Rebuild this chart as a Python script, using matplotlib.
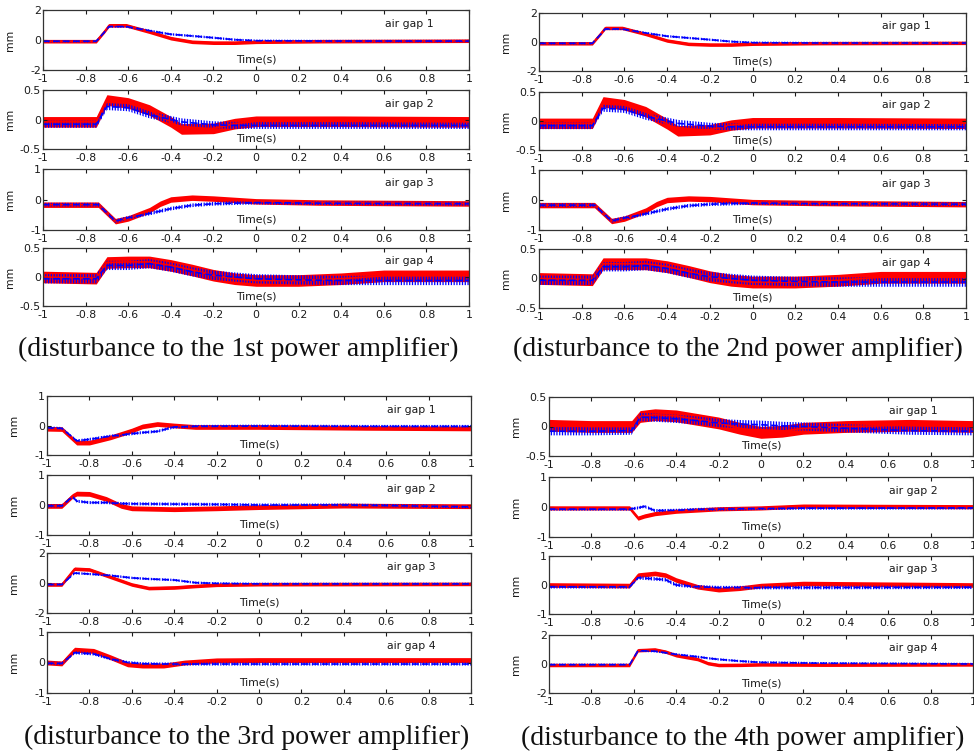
import numpy as np
import matplotlib
matplotlib.use("Agg")
import matplotlib.pyplot as plt

plt.rcParams["hatch.linewidth"] = 0.9

# ---- data (time in s, air gap in mm) ----
xticks = [-1, -0.8, -0.6, -0.4, -0.2, 0, 0.2, 0.4, 0.6, 0.8, 1]
xtick_labels = ["-1", "-0.8", "-0.6", "-0.4", "-0.2", "0", "0.2", "0.4", "0.6", "0.8", "1"]
gap_names = ["air gap 1", "air gap 2", "air gap 3", "air gap 4"]
captions = ["(disturbance to the 1st power amplifier)",
            "(disturbance to the 2nd power amplifier)",
            "(disturbance to the 3rd power amplifier)",
            "(disturbance to the 4th power amplifier)"]

# y limits (+/-) for each air gap panel
ylim_pa1 = [2, 0.5, 1, 0.5]
ylim_pa2 = [2, 0.5, 1, 0.5]
ylim_pa3 = [1, 1, 2, 1]
ylim_pa4 = [0.5, 1, 1, 2]

# half width of the noise band (red, blue)
red_noise_pa1 = [0.12, 0.09, 0.09, 0.1]
blue_noise_pa1 = [0.08, 0.06, 0.06, 0.08]
red_noise_pa2 = [0.12, 0.09, 0.09, 0.1]
blue_noise_pa2 = [0.08, 0.06, 0.06, 0.08]
red_noise_pa3 = [0.08, 0.08, 0.12, 0.08]
blue_noise_pa3 = [0.05, 0.05, 0.08, 0.05]
red_noise_pa4 = [0.1, 0.07, 0.08, 0.12]
blue_noise_pa4 = [0.07, 0.05, 0.06, 0.08]

# 1st power amplifier
t11 = [-1, -0.75, -0.71, -0.69, -0.61, -0.5, -0.4, -0.3, -0.2, -0.1, 0, 0.3, 1]
red11 = [-0.08, -0.08, 0.6, 0.98, 0.98, 0.55, 0.12, -0.12, -0.18, -0.18, -0.12, -0.08, -0.05]
blue11 = [-0.08, -0.08, 0.55, 0.9, 0.9, 0.62, 0.38, 0.27, 0.15, 0.02, -0.05, -0.07, -0.07]
t12 = [-1, -0.75, -0.7, -0.6, -0.5, -0.4, -0.35, -0.2, -0.1, 0, 0.4, 1]
red12 = [-0.04, -0.04, 0.33, 0.28, 0.16, -0.04, -0.16, -0.15, -0.07, -0.03, -0.03, -0.04]
blue12 = [-0.08, -0.08, 0.22, 0.2, 0.08, 0.0, -0.04, -0.09, -0.1, -0.1, -0.1, -0.1]
t13 = [-1, -0.74, -0.66, -0.6, -0.5, -0.45, -0.4, -0.3, -0.2, 0, 0.3, 1]
red13 = [-0.17, -0.17, -0.71, -0.62, -0.35, -0.14, 0.0, 0.06, 0.03, -0.06, -0.1, -0.13]
blue13 = [-0.17, -0.17, -0.71, -0.6, -0.46, -0.38, -0.3, -0.19, -0.14, -0.1, -0.12, -0.14]
t14 = [-1, -0.75, -0.7, -0.6, -0.5, -0.4, -0.3, -0.2, -0.1, 0, 0.2, 0.4, 0.6, 1]
red14 = [0.0, -0.02, 0.25, 0.26, 0.26, 0.2, 0.12, 0.03, -0.03, -0.06, -0.06, -0.03, 0.02, 0.02]
blue14 = [-0.03, -0.03, 0.2, 0.2, 0.23, 0.17, 0.09, 0.03, 0.0, -0.03, -0.05, -0.06, -0.06, -0.06]

# 2nd power amplifier
t21 = [-1, -0.75, -0.71, -0.69, -0.61, -0.5, -0.4, -0.3, -0.2, -0.1, 0, 0.3, 1]
red21 = [-0.09, -0.09, 0.6, 0.97, 0.97, 0.55, 0.1, -0.13, -0.18, -0.18, -0.12, -0.08, -0.06]
blue21 = [-0.09, -0.09, 0.55, 0.9, 0.9, 0.62, 0.4, 0.28, 0.16, 0.03, -0.05, -0.07, -0.07]
t22 = [-1, -0.75, -0.7, -0.6, -0.5, -0.4, -0.35, -0.2, -0.1, 0, 0.4, 1]
red22 = [-0.04, -0.04, 0.33, 0.28, 0.16, -0.05, -0.17, -0.15, -0.07, -0.03, -0.03, -0.04]
blue22 = [-0.08, -0.08, 0.22, 0.2, 0.08, 0.0, -0.04, -0.09, -0.1, -0.1, -0.1, -0.1]
t23 = [-1, -0.74, -0.66, -0.6, -0.5, -0.45, -0.4, -0.3, -0.2, 0, 0.3, 1]
red23 = [-0.17, -0.17, -0.7, -0.62, -0.35, -0.14, 0.0, 0.05, 0.03, -0.07, -0.1, -0.14]
blue23 = [-0.17, -0.17, -0.7, -0.6, -0.46, -0.38, -0.3, -0.19, -0.14, -0.1, -0.12, -0.14]
t24 = [-1, -0.75, -0.7, -0.6, -0.5, -0.4, -0.3, -0.2, -0.1, 0, 0.2, 0.4, 0.6, 1]
red24 = [0.0, -0.02, 0.25, 0.25, 0.25, 0.2, 0.12, 0.03, -0.03, -0.06, -0.06, -0.03, 0.02, 0.02]
blue24 = [-0.03, -0.03, 0.2, 0.2, 0.22, 0.17, 0.09, 0.03, 0.0, -0.03, -0.05, -0.06, -0.06, -0.06]

# 3rd power amplifier
t31 = [-1, -0.93, -0.86, -0.8, -0.7, -0.6, -0.55, -0.48, -0.4, -0.3, 0, 0.5, 1]
red31 = [-0.11, -0.12, -0.58, -0.58, -0.4, -0.17, -0.03, 0.05, 0.0, -0.05, -0.05, -0.08, -0.1]
blue31 = [-0.08, -0.1, -0.52, -0.47, -0.36, -0.28, -0.24, -0.2, -0.05, -0.03, -0.02, -0.03, -0.03]
t32 = [-1, -0.93, -0.88, -0.86, -0.8, -0.72, -0.65, -0.6, -0.4, -0.2, 0, 0.4, 1]
red32 = [-0.03, -0.03, 0.3, 0.38, 0.37, 0.2, -0.03, -0.11, -0.14, -0.11, -0.07, -0.02, -0.04]
blue32 = [-0.03, -0.03, 0.28, 0.13, 0.08, 0.08, 0.05, 0.04, 0.03, 0.02, 0.0, 0.0, -0.06]
t33 = [-1, -0.93, -0.87, -0.8, -0.7, -0.6, -0.52, -0.4, -0.3, -0.2, 0, 1]
red33 = [-0.1, -0.1, 0.95, 0.9, 0.4, -0.1, -0.34, -0.3, -0.2, -0.12, -0.08, -0.06]
blue33 = [-0.1, -0.1, 0.66, 0.6, 0.5, 0.34, 0.27, 0.2, 0.02, -0.03, -0.06, -0.06]
t34 = [-1, -0.93, -0.87, -0.78, -0.7, -0.62, -0.55, -0.45, -0.35, -0.2, 0, 0.5, 1]
red34 = [0.0, -0.03, 0.42, 0.38, 0.17, -0.06, -0.1, -0.1, 0.0, 0.07, 0.08, 0.08, 0.08]
blue34 = [-0.02, -0.03, 0.32, 0.28, 0.12, 0.0, -0.04, -0.05, -0.05, -0.05, -0.05, -0.05, -0.05]

# 4th power amplifier
t41 = [-1, -0.8, -0.61, -0.57, -0.5, -0.4, -0.3, -0.2, -0.1, 0, 0.1, 0.2, 0.4, 0.7, 1]
red41 = [0.02, 0.0, 0.0, 0.17, 0.2, 0.18, 0.12, 0.06, -0.03, -0.1, -0.08, -0.03, 0.0, 0.02, 0.0]
blue41 = [-0.08, -0.08, -0.07, 0.16, 0.15, 0.13, 0.1, 0.06, 0.04, 0.03, 0.01, 0.0, -0.03, -0.07, -0.08]
t42 = [-1, -0.62, -0.58, -0.55, -0.5, -0.4, -0.3, -0.2, 0, 0.2, 1]
red42 = [-0.03, -0.03, -0.37, -0.3, -0.22, -0.14, -0.1, -0.06, -0.03, 0.03, 0.01]
blue42 = [-0.07, -0.07, -0.03, 0.02, -0.12, -0.11, -0.08, -0.07, -0.05, -0.04, -0.03]
t43 = [-1, -0.62, -0.58, -0.5, -0.45, -0.4, -0.3, -0.2, -0.1, 0, 0.2, 1]
red43 = [0.0, -0.02, 0.34, 0.4, 0.34, 0.17, -0.06, -0.16, -0.11, -0.02, 0.05, 0.0]
blue43 = [-0.06, -0.06, 0.25, 0.21, 0.18, 0.0, -0.06, -0.09, -0.09, -0.09, -0.09, -0.08]
t44 = [-1, -0.62, -0.58, -0.5, -0.45, -0.4, -0.3, -0.25, -0.2, -0.1, 0, 0.3, 1]
red44 = [-0.07, -0.07, 0.95, 1.0, 0.85, 0.6, 0.34, 0.05, -0.07, -0.06, -0.03, -0.05, -0.03]
blue44 = [-0.05, -0.05, 0.92, 0.88, 0.78, 0.66, 0.5, 0.4, 0.32, 0.2, 0.11, 0.05, 0.0]

# ---- layout (pixels in a 974x756 canvas) ----
W, H = 974, 756
# (left, right) per quadrant and (top, bottom) per row
quad_x = [(43, 469), (539, 966), (47, 471), (549, 973)]
quad_rows = [
    [(10, 70), (90, 149), (169, 230), (248, 306)],
    [(13, 71), (92, 150), (170, 230), (249, 308)],
    [(396, 455), (475, 535), (553, 613), (632, 693)],
    [(397, 456), (477, 537), (556, 614), (635, 693)],
]
caption_pos = [(238, 349), (738, 349), (247, 737), (743, 738)]

quads = [
    ([(t11, red11, blue11), (t12, red12, blue12), (t13, red13, blue13), (t14, red14, blue14)],
     ylim_pa1, red_noise_pa1, blue_noise_pa1),
    ([(t21, red21, blue21), (t22, red22, blue22), (t23, red23, blue23), (t24, red24, blue24)],
     ylim_pa2, red_noise_pa2, blue_noise_pa2),
    ([(t31, red31, blue31), (t32, red32, blue32), (t33, red33, blue33), (t34, red34, blue34)],
     ylim_pa3, red_noise_pa3, blue_noise_pa3),
    ([(t41, red41, blue41), (t42, red42, blue42), (t43, red43, blue43), (t44, red44, blue44)],
     ylim_pa4, red_noise_pa4, blue_noise_pa4),
]

fig = plt.figure(figsize=(W / 100, H / 100), dpi=100)
tick_font = dict(family="DejaVu Sans", size=7.8)
txt_kw = dict(fontsize=7.8, family="DejaVu Sans", color="#1a1a1a")

for q, (panels, ylims, rnoise, bnoise) in enumerate(quads):
    x0, x1 = quad_x[q]
    for i, (t, red, blue) in enumerate(panels):
        top, bot = quad_rows[q][i]
        ax = fig.add_axes([x0 / W, 1 - bot / H, (x1 - x0) / W, (bot - top) / H])
        t = np.array(t)
        red = np.array(red)
        blue = np.array(blue)

        # red: solid noisy band, blue: striped band with dashed centre line
        ax.fill_between(t, red - rnoise[i], red + rnoise[i], color="#ff0000", lw=0)
        ax.plot(t, red, color="#ff0000", lw=1.2)
        ax.fill_between(t, blue - bnoise[i], blue + bnoise[i], facecolor="none",
                        edgecolor="#0000ff", hatch="||||||", lw=0)
        ax.plot(t, blue, color="#0000ff", lw=1.2, ls=(0, (4, 2)))

        lim = ylims[i]
        ax.set_xlim(-1, 1)
        ax.set_ylim(-lim, lim)
        ax.set_xticks(xticks)
        ax.set_xticklabels(xtick_labels, fontdict=tick_font)
        ax.set_yticks([-lim, 0, lim])
        ax.set_yticklabels([f"{-lim:g}", "0", f"{lim:g}"], fontdict=tick_font)
        ax.tick_params(direction="in", length=3, width=0.8, top=True, right=True,
                       pad=1.5, colors="#1a1a1a")
        ax.tick_params(axis="x", pad=3)
        for sp in ax.spines.values():
            sp.set_linewidth(0.9)
            sp.set_color("#333333")

        ax.set_ylabel("mm", labelpad=0, **txt_kw)
        ax.yaxis.set_label_coords(-28 / (x1 - x0), 0.5)
        ax.text(0.5, 0.17, "Time(s)", transform=ax.transAxes, ha="center", va="center", **txt_kw)
        ax.text(0.86, 0.77, gap_names[i], transform=ax.transAxes, ha="center", va="center", **txt_kw)

    cx, cy = caption_pos[q]
    fig.text(cx / W, 1 - cy / H, captions[q], ha="center", va="center",
             fontsize=20, family="Liberation Serif", color="#111111")

fig.savefig("out.png", dpi=100)
plt.close(fig)
